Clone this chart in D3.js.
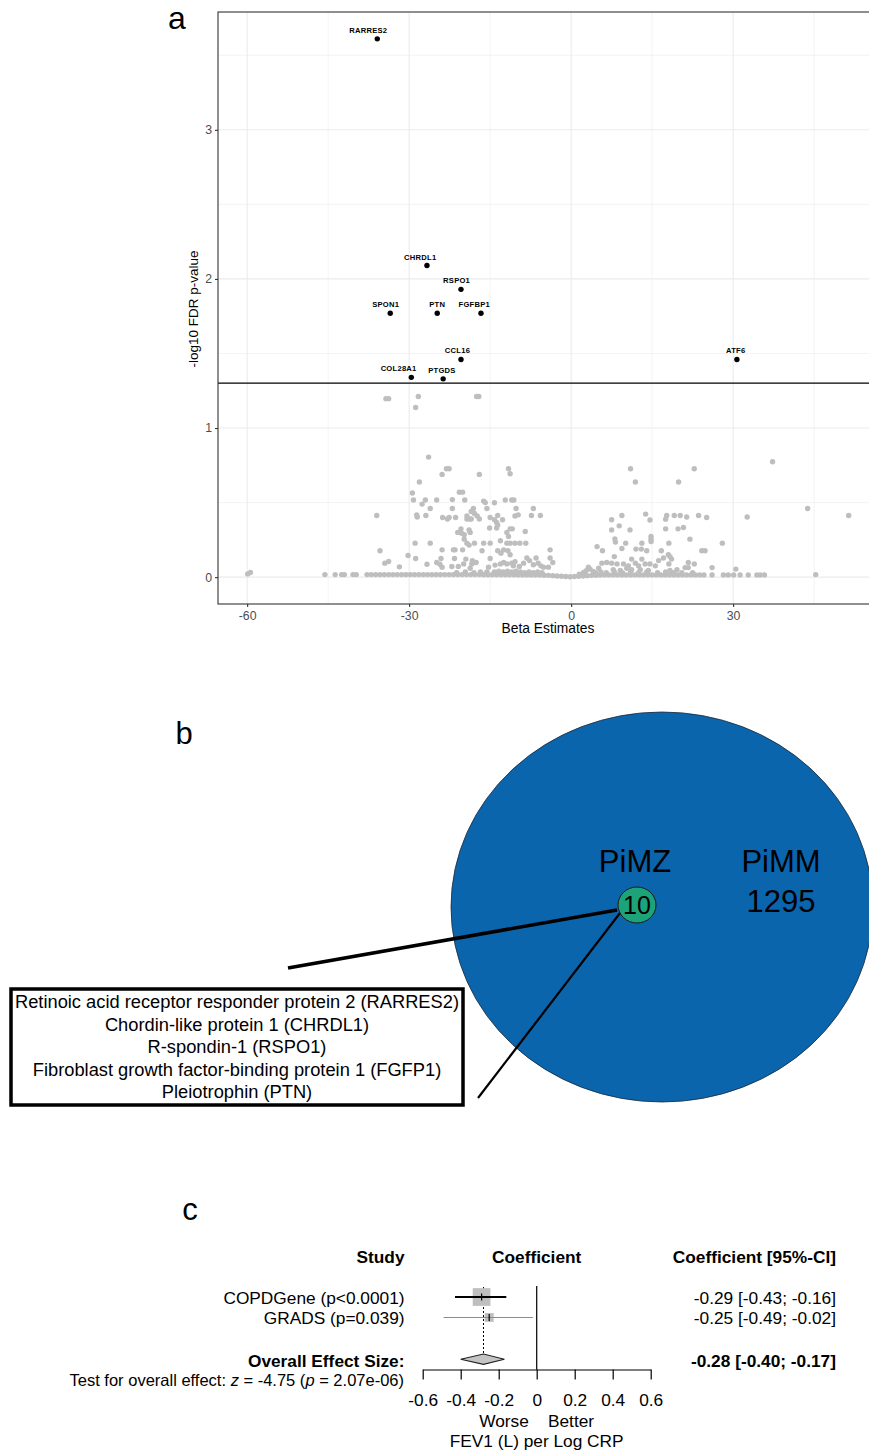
<!DOCTYPE html>
<html><head><meta charset="utf-8">
<script src="https://cdn.jsdelivr.net/npm/d3@7"></script>
<style>body{margin:0;background:#fff}svg{display:block}text{font-family:"Liberation Sans",Arial,Helvetica,sans-serif}</style>
</head><body><svg id="c" width="869" height="1453"></svg>
<script>
// ---------------- DATA ----------------
// Panel a: significant proteins
const sigGenes = ["RARRES2","CHRDL1","RSPO1","SPON1","PTN","FGFBP1","CCL16","ATF6","COL28A1","PTGDS"];
const sigBeta  = [-35.9,-26.7,-20.4,-33.5,-24.8,-16.7,-20.4,30.7,-29.6,-23.7];
const sigLogP  = [3.61,2.09,1.93,1.77,1.77,1.77,1.46,1.46,1.34,1.33];
// Panel a: non-significant proteins [beta, -log10 FDR]
const nonSigPoints = [
[-34.3,1.197],[-33.8,1.197],[-28.3,1.212],[-28.8,1.138],[-17.5,1.212],[-17.1,1.212],
[-26.4,0.805],[-23.1,0.727],[-22.6,0.727],[-23.9,0.689],[-17.0,0.689],[-11.6,0.727],[-11.3,0.693],[-28.1,0.638],[-29.4,0.564],[-20.7,0.570],[-20.1,0.570],
[-29.2,0.517],[-27.0,0.517],[-27.6,0.49],[-24.9,0.517],[-22.0,0.52],[-19.7,0.517],[-16.2,0.51],[-15.9,0.50],[-14.2,0.499],[-12.2,0.517],[-11.0,0.517],[-10.6,0.517],
[-26.1,0.46],[-22.0,0.46],[-18.1,0.46],[-15.6,0.46],[-10.2,0.46],[-7.0,0.46],[-36.0,0.413],[-28.6,0.418],[-28.5,0.403],[-26.9,0.413],[-23.8,0.40],[-22.9,0.39],[-22.6,0.40],
[-21.4,0.40],[-19.3,0.41],[-18.8,0.39],[-18.5,0.39],[-19.3,0.39],[-18.5,0.44],[-17.9,0.427],[-17.4,0.41],[-17.0,0.39],[-15.0,0.40],[-13.6,0.413],[-14.2,0.385],[-13.8,0.367],
[-12.7,0.385],[-10.4,0.41],[-9.8,0.418],[-7.35,0.413],[-5.7,0.413],[-15.1,0.33],[-13.8,0.33],[-13.6,0.35],[-11.3,0.324],[-10.9,0.324],[-8.5,0.306],[-20.4,0.324],[-20.3,0.295],
[-19.8,0.284],[-21.0,0.30],[-18.9,0.317],[-18.7,0.30],[-11.9,0.30],[-11.6,0.273],[-19.8,0.255],[-19.3,0.228],[-18.9,0.215],[-28.9,0.228],[-26.1,0.228],[-17.9,0.228],[-16.2,0.228],
[-15.0,0.228],[-13.1,0.244],[-11.9,0.228],[-11.3,0.228],[-10.4,0.228],[-9.5,0.228],[-8.4,0.228],[-35.4,0.177],[-23.9,0.183],[-21.8,0.183],[-21.5,0.183],[-20.1,0.183],[-16.5,0.177],
[-13.6,0.177],[-13.0,0.161],[-12.5,0.183],[-11.7,0.177],[-11.3,0.15],[-3.9,0.183],[-30.2,0.145],[-28.8,0.125],[-24.1,0.125],[-21.6,0.125],[-19.5,0.121],[-18.3,0.111],[-17.6,0.098],
[-15.0,0.125],[-34.5,0.094],[-33.8,0.105],[-31.8,0.069],[-26.7,0.087],[-24.9,0.098],[-24.3,0.087],[-23.9,0.067],[-22.1,0.071],[-20.9,0.071],[-19.9,0.089],[-18.7,0.06],[-18.4,0.089],
[-15.3,0.067],[-14.1,0.081],[-13.1,0.089],[-12.5,0.098],[-11.9,0.089],[-11.0,0.094],[-10.7,0.076],[-10.4,0.103],[-9.6,0.071],[-8.8,0.094],[-8.2,0.128],[-7.7,0.111],[-7.0,0.083],
[-6.5,0.128],[-6.1,0.094],[-5.6,0.076],[-5.1,0.067],[-4.2,0.067],[-3.9,0.128],[-3.4,0.098],
[11.0,0.727],[11.9,0.638],[22.8,0.727],[19.9,0.638],[9.4,0.413],[7.5,0.385],[13.8,0.423],[14.6,0.383],[17.7,0.413],[17.5,0.389],[19.1,0.413],[20.2,0.413],[21.4,0.403],[23.6,0.413],
[25.1,0.40],[32.6,0.403],[7.5,0.317],[8.9,0.344],[10.9,0.317],[17.5,0.324],[19.8,0.324],[20.8,0.333],[8.1,0.257],[8.2,0.235],[10.1,0.228],[14.8,0.273],[14.8,0.255],[14.8,0.239],
[13.1,0.228],[18.1,0.228],[22.0,0.255],[28.0,0.228],[4.8,0.205],[5.8,0.177],[9.4,0.192],[12.0,0.188],[13.0,0.188],[14.0,0.177],[16.7,0.177],[24.2,0.177],[24.8,0.177],[8.0,0.138],
[11.2,0.121],[13.1,0.121],[16.2,0.111],[17.1,0.128],[18.0,0.15],[18.3,0.138],[18.6,0.121],[18.1,0.089],[5.7,0.094],[6.6,0.098],[7.5,0.094],[8.5,0.089],[9.7,0.089],[10.6,0.076],
[11.9,0.094],[12.5,0.076],[13.7,0.089],[14.6,0.089],[15.6,0.076],[21.7,0.098],[22.8,0.089],[21.7,0.064],[21.1,0.064],[26.1,0.064],[30.5,0.054],[3.2,0.067],[2.8,0.044],[3.5,0.054],
[2.3,0.031],[4.1,0.038],[5.1,0.06],[7.8,0.05],[9.1,0.045],[10.3,0.06],[11.2,0.05],[12.8,0.05],[14.3,0.045],[18.3,0.045],[19.6,0.05],[37.3,0.774],[43.8,0.46],[51.4,0.413],[45.3,0.017],
[-59.9,0.022],[-59.4,0.031],[-45.6,0.017],[-43.7,0.017],[-42.5,0.017],[-42.0,0.017],[-40.4,0.017],[-39.8,0.017],
[26.1,0.015],[28.2,0.015],[29.1,0.015],[30.1,0.015],[31.3,0.015],[32.8,0.015],[34.4,0.015],[35.0,0.015],[35.8,0.015],
[-15.6,0.035],[-14.2,0.035],[-13.4,0.04],[-12.6,0.035],[-11.8,0.04],[-11.0,0.035],[-10.2,0.04],[-9.4,0.035],[-8.6,0.03],[-7.8,0.035],[-7.0,0.03],[-6.2,0.035],[-5.4,0.03],
[-21.2,0.03],[-19.6,0.035],[-18.0,0.03],[-16.8,0.035],
[1.5,0.02],[4.5,0.03],[5.5,0.035],[6.5,0.03],[8.0,0.035],[9.5,0.03],[11.0,0.035],[12.5,0.03],[14.0,0.035],[16.0,0.03],[17.5,0.035],[19.0,0.03],[20.5,0.03],[22.5,0.03]
];
// Panel a: the dense band of near-zero proteins
const baseBeta = [-37.8,-37.0,-36.2,-35.4,-34.6,-33.8,-33.0,-32.2,-31.4,-30.6,-29.8,-29.0,-28.2,-27.4,-26.6,-25.8,-25.0,-24.2,-23.4,-22.6,-21.8,-21.0,-20.2,-19.4,-18.6,-17.8,-17.0,-16.2,-15.4,-14.6,-13.8,-13.0,-12.2,-11.4,-10.6,-9.8,-9.0,-8.2,-7.4,-6.6,-5.8,-5.0,-4.2,-3.4,-2.6,-1.8,-1.0,-0.2,0.6,1.4,2.2,3.0,3.8,4.6,5.4,6.2,7.0,7.8,8.6,9.4,10.2,11.0,11.8,12.6,13.4,14.2,15.0,15.8,16.6,17.4,18.2,19.0,19.8,20.6,21.4,22.2,23.0,23.8,24.6];
const baseLogP = [0.017,0.017,0.017,0.017,0.017,0.017,0.017,0.017,0.017,0.017,0.017,0.017,0.017,0.017,0.017,0.017,0.017,0.017,0.017,0.017,0.017,0.017,0.017,0.017,0.017,0.017,0.017,0.016,0.016,0.016,0.016,0.016,0.016,0.016,0.016,0.015,0.015,0.015,0.015,0.014,0.014,0.013,0.012,0.010,0.008,0.006,0.004,0.003,0.004,0.006,0.008,0.010,0.012,0.013,0.014,0.015,0.015,0.015,0.015,0.015,0.015,0.015,0.015,0.015,0.015,0.015,0.015,0.015,0.015,0.015,0.015,0.015,0.015,0.015,0.015,0.015,0.015,0.015,0.015];
const fdrCutoff = 0.05;
const xMajor = [-60,-30,0,30], xMinor = [-45,-15,15,45];
const yMajor = [0,1,2,3], yMinor = [0.5,1.5,2.5,3.5];

// Panel b: Venn
const vennLabels = ["PiMZ","PiMM"];
const vennCounts = [10,1295];
const proteinList = ["Retinoic acid receptor responder protein 2 (RARRES2)","Chordin-like protein 1 (CHRDL1)","R-spondin-1 (RSPO1)","Fibroblast growth factor-binding protein 1 (FGFP1)","Pleiotrophin (PTN)"];

// Panel c: forest plot
const studies   = ["COPDGene (p<0.0001)","GRADS (p=0.039)"];
const coef      = [-0.29,-0.25];
const ciLow     = [-0.43,-0.49];
const ciHigh    = [-0.16,-0.02];
const weightPct = [80,20];
const ciText    = ["-0.29 [-0.43; -0.16]","-0.25 [-0.49; -0.02]"];
const overall   = {est:-0.28, lo:-0.40, hi:-0.17, text:"-0.28 [-0.40; -0.17]"};
const forestTicks = [-0.6,-0.4,-0.2,0,0.2,0.4,0.6];

// ---------------- DRAW ----------------
const FONT = '"Liberation Sans",Arial,Helvetica,sans-serif';
const svg = d3.select('#c');
svg.append('rect').attr('width',869).attr('height',1453).attr('fill','#fff');

// ===== Panel a =====
const pa = {l:218, t:12, r:880, b:604};
const x = d3.scaleLinear().domain([-65.4,57.2]).range([pa.l,pa.r]);
const y = d3.scaleLinear().domain([-0.18,3.79]).range([pa.b,pa.t]);
const gA = svg.append('g');
svg.append('defs').append('clipPath').attr('id','clipA').append('rect')
  .attr('x',pa.l).attr('y',pa.t).attr('width',pa.r-pa.l).attr('height',pa.b-pa.t);
const grid = gA.append('g');
grid.selectAll('.vxm').data(xMinor).join('line').attr('x1',d=>x(d)).attr('x2',d=>x(d)).attr('y1',pa.t).attr('y2',pa.b).attr('stroke','#ebebeb').attr('stroke-width',0.6);
grid.selectAll('.hym').data(yMinor).join('line').attr('y1',d=>y(d)).attr('y2',d=>y(d)).attr('x1',pa.l).attr('x2',pa.r).attr('stroke','#ebebeb').attr('stroke-width',0.6);
grid.selectAll('.vx').data(xMajor).join('line').attr('x1',d=>x(d)).attr('x2',d=>x(d)).attr('y1',pa.t).attr('y2',pa.b).attr('stroke','#ebebeb').attr('stroke-width',1.1);
grid.selectAll('.hy').data(yMajor).join('line').attr('y1',d=>y(d)).attr('y2',d=>y(d)).attr('x1',pa.l).attr('x2',pa.r).attr('stroke','#ebebeb').attr('stroke-width',1.1);

const pts = gA.append('g').attr('clip-path','url(#clipA)');
pts.selectAll('.base').data(baseBeta).join('circle').attr('cx',d=>x(d)).attr('cy',(d,i)=>y(baseLogP[i])).attr('r',2.7).attr('fill','#bebebe');
pts.selectAll('.ns').data(nonSigPoints).join('circle').attr('cx',d=>x(d[0])).attr('cy',d=>y(d[1])).attr('r',2.7).attr('fill','#bebebe');
gA.append('line').attr('x1',pa.l).attr('x2',pa.r).attr('y1',y(-Math.log10(fdrCutoff))).attr('y2',y(-Math.log10(fdrCutoff))).attr('stroke','#000').attr('stroke-width',1.3);
pts.selectAll('.sig').data(sigGenes).join('circle').attr('cx',(d,i)=>x(sigBeta[i])).attr('cy',(d,i)=>y(sigLogP[i])).attr('r',2.7).attr('fill','#000');
const labelDx = [-9,-6.7,-4.4,-4.5,0,-6.7,-3.5,-1.2,-12.7,-1.2];
gA.selectAll('.lab').data(sigGenes).join('text').attr('x',(d,i)=>x(sigBeta[i])+labelDx[i]).attr('y',(d,i)=>y(sigLogP[i])-6)
  .attr('text-anchor','middle').attr('font-size',7.6).attr('font-weight','bold').attr('letter-spacing',0.25).attr('fill','#000').text(d=>d);
gA.append('rect').attr('x',pa.l).attr('y',pa.t).attr('width',pa.r-pa.l).attr('height',pa.b-pa.t).attr('fill','none').attr('stroke','#333').attr('stroke-width',1.1);

const styleAxis = g => { g.select('.domain').remove(); g.attr('font-family',FONT).attr('font-size',12.3);
  g.selectAll('line').attr('stroke','#333').attr('stroke-width',1.1); g.selectAll('text').attr('fill','#4d4d4d'); };
gA.append('g').attr('transform',`translate(0,${pa.b})`)
  .call(d3.axisBottom(x).tickValues(xMajor).tickSize(3).tickPadding(4.5).tickFormat(d=>String(d))).call(styleAxis);
gA.append('g').attr('transform',`translate(${pa.l},0)`)
  .call(d3.axisLeft(y).tickValues(yMajor).tickSize(3).tickPadding(3).tickFormat(d=>String(d))).call(styleAxis);
gA.append('text').attr('x',548).attr('y',633).attr('text-anchor','middle').attr('font-size',13.8).text('Beta Estimates');
gA.append('text').attr('transform','translate(198,309) rotate(-90)').attr('text-anchor','middle').attr('font-size',13.5).text('-log10 FDR p-value');
svg.append('text').attr('x',177).attr('y',29).attr('text-anchor','middle').attr('font-size',32).text('a');

// ===== Panel b =====
const gB = svg.append('g');
gB.append('text').attr('x',184).attr('y',744).attr('text-anchor','middle').attr('font-size',31).text('b');
gB.append('ellipse').attr('cx',662).attr('cy',907).attr('rx',211).attr('ry',195).attr('fill','#0b65ad').attr('stroke','#1b2a3a').attr('stroke-width',0.8);
gB.append('text').attr('x',635).attr('y',872).attr('text-anchor','middle').attr('font-size',31).text(vennLabels[0]);
gB.append('text').attr('x',781).attr('y',872).attr('text-anchor','middle').attr('font-size',31).text(vennLabels[1]);
gB.append('text').attr('x',781).attr('y',912).attr('text-anchor','middle').attr('font-size',31).text(vennCounts[1]);
gB.append('ellipse').attr('cx',637).attr('cy',905).attr('rx',19).attr('ry',18).attr('fill','#1ca37a').attr('stroke','#1a1a1a').attr('stroke-width',1);
gB.append('text').attr('x',637).attr('y',914).attr('text-anchor','middle').attr('font-size',25).text(vennCounts[0]);
gB.append('line').attr('x1',617).attr('y1',910).attr('x2',288).attr('y2',968).attr('stroke','#000').attr('stroke-width',3.5);
gB.append('line').attr('x1',620).attr('y1',913).attr('x2',478).attr('y2',1098).attr('stroke','#000').attr('stroke-width',2.2);
gB.append('rect').attr('x',11).attr('y',989).attr('width',452).attr('height',116).attr('fill','#fff').attr('stroke','#000').attr('stroke-width',3.5);
const rowY = d3.scalePoint().domain(proteinList).range([1008,1098]);
gB.selectAll('.prot').data(proteinList).join('text').attr('x',237).attr('y',d=>rowY(d)).attr('text-anchor','middle').attr('font-size',18.3).text(d=>d);

// ===== Panel c =====
const gC = svg.append('g');
gC.append('text').attr('x',190).attr('y',1220).attr('text-anchor','middle').attr('font-size',31).text('c');
const fx = d3.scaleLinear().domain([-0.6,0.6]).range([422.7,650.7]);
const fy = d3.scalePoint().domain(studies).range([1297,1317.5]);
const FS = 17.3;
gC.append('text').attr('x',404.5).attr('y',1263).attr('text-anchor','end').attr('font-size',FS).attr('font-weight','bold').text('Study');
gC.append('text').attr('x',fx(0)).attr('y',1263).attr('text-anchor','middle').attr('font-size',FS).attr('font-weight','bold').text('Coefficient');
gC.append('text').attr('x',836).attr('y',1263).attr('text-anchor','end').attr('font-size',FS).attr('font-weight','bold').text('Coefficient [95%-CI]');
gC.selectAll('.st').data(studies).join('text').attr('x',404.5).attr('y',d=>fy(d)+6.5).attr('text-anchor','end').attr('font-size',FS).text(d=>d);
gC.selectAll('.ci').data(ciText).join('text').attr('x',836).attr('y',(d,i)=>fy(studies[i])+6.5).attr('text-anchor','end').attr('font-size',FS).text(d=>d);
// zero line
gC.append('line').attr('x1',fx(0)).attr('x2',fx(0)).attr('y1',1286).attr('y2',1369.5).attr('stroke','#000').attr('stroke-width',1.2);
// dotted overall line
gC.append('line').attr('x1',fx(overall.est)).attr('x2',fx(overall.est)).attr('y1',1287).attr('y2',1354).attr('stroke','#000').attr('stroke-width',1).attr('stroke-dasharray','2,2');
// squares (side proportional to sqrt of weight)
const side = i => 19.8*Math.sqrt(weightPct[i]/100);
gC.selectAll('.sq').data(studies).join('rect')
  .attr('x',(d,i)=>fx(coef[i])-side(i)/2).attr('y',(d,i)=>fy(d)-side(i)/2)
  .attr('width',(d,i)=>side(i)).attr('height',(d,i)=>side(i)).attr('fill','#bfbfbf');
gC.selectAll('.cil').data(studies).join('line').attr('x1',(d,i)=>fx(ciLow[i])).attr('x2',(d,i)=>fx(ciHigh[i])).attr('y1',d=>fy(d)).attr('y2',d=>fy(d))
  .attr('stroke',(d,i)=>i===0?'#000':'#8c8c8c').attr('stroke-width',(d,i)=>i===0?2:1.2);
gC.selectAll('.tk').data(studies).join('line').attr('x1',(d,i)=>fx(coef[i])).attr('x2',(d,i)=>fx(coef[i])).attr('y1',d=>fy(d)-3.5).attr('y2',d=>fy(d)+3.5).attr('stroke','#000').attr('stroke-width',1.2);
// diamond
const dy0 = 1359.2;
gC.append('path').attr('d',`M${fx(overall.lo)},${dy0}L${fx(overall.est)},${dy0-5.2}L${fx(overall.hi)},${dy0}L${fx(overall.est)},${dy0+5.2}Z`)
  .attr('fill','#c4c4c4').attr('stroke','#222').attr('stroke-width',1.1);
gC.append('text').attr('x',404.5).attr('y',1366.5).attr('text-anchor','end').attr('font-size',FS).attr('font-weight','bold').text('Overall Effect Size:');
gC.append('text').attr('x',836).attr('y',1366.5).attr('text-anchor','end').attr('font-size',FS).attr('font-weight','bold').text(overall.text);
const tt = gC.append('text').attr('x',404).attr('y',1385.5).attr('text-anchor','end').attr('font-size',16.5);
tt.append('tspan').text('Test for overall effect: ');
tt.append('tspan').attr('font-style','italic').text('z');
tt.append('tspan').text(' = -4.75 (');
tt.append('tspan').attr('font-style','italic').text('p');
tt.append('tspan').text(' = 2.07e-06)');
// axis
const fAx = gC.append('g').attr('transform','translate(0,1369.5)')
  .call(d3.axisBottom(fx).tickValues(forestTicks).tickSize(10).tickPadding(14).tickSizeOuter(0).tickFormat(d=>d===0?'0':d.toFixed(1)));
fAx.attr('font-family',FONT).attr('font-size',FS);
fAx.select('.domain').attr('stroke','#000').attr('stroke-width',1.2);
fAx.selectAll('line').attr('stroke','#000').attr('stroke-width',1.2);
fAx.selectAll('text').attr('fill','#000');
gC.append('text').attr('x',504).attr('y',1427).attr('text-anchor','middle').attr('font-size',FS).text('Worse');
gC.append('text').attr('x',571).attr('y',1427).attr('text-anchor','middle').attr('font-size',FS).text('Better');
gC.append('text').attr('x',fx(0)).attr('y',1447).attr('text-anchor','middle').attr('font-size',FS).text('FEV1 (L) per Log CRP');
</script></body></html>
